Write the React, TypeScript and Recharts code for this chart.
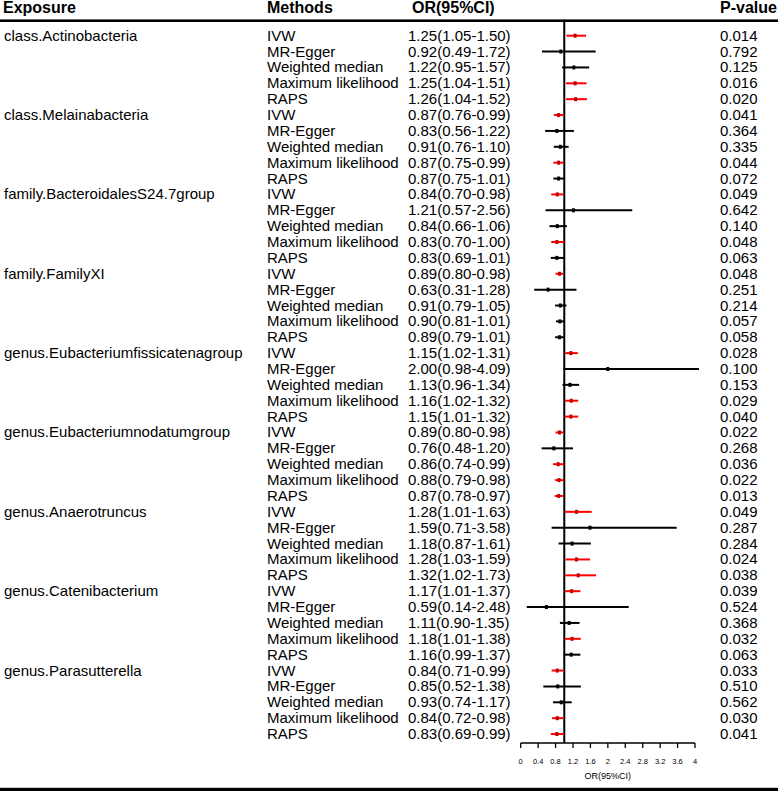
import React from "react";
import {
  ErrorBar,
  ReferenceLine,
  Scatter,
  ScatterChart,
  XAxis,
  YAxis,
} from "recharts";

const FONT = '"Liberation Sans", Arial, sans-serif';

const exposures = [
  "class.Actinobacteria",
  "class.Melainabacteria",
  "family.BacteroidalesS24.7group",
  "family.FamilyXI",
  "genus.Eubacteriumfissicatenagroup",
  "genus.Eubacteriumnodatumgroup",
  "genus.Anaerotruncus",
  "genus.Catenibacterium",
  "genus.Parasutterella",
];

const methods = [
  "IVW",
  "MR-Egger",
  "Weighted median",
  "Maximum likelihood",
  "RAPS",
];

const or = [
  1.25, 0.92, 1.22, 1.25, 1.26,
  0.87, 0.83, 0.91, 0.87, 0.87,
  0.84, 1.21, 0.84, 0.83, 0.83,
  0.89, 0.63, 0.91, 0.9, 0.89,
  1.15, 2.0, 1.13, 1.16, 1.15,
  0.89, 0.76, 0.86, 0.88, 0.87,
  1.28, 1.59, 1.18, 1.28, 1.32,
  1.17, 0.59, 1.11, 1.18, 1.16,
  0.84, 0.85, 0.93, 0.84, 0.83,
];

const lower = [
  1.05, 0.49, 0.95, 1.04, 1.04,
  0.76, 0.56, 0.76, 0.75, 0.75,
  0.7, 0.57, 0.66, 0.7, 0.69,
  0.8, 0.31, 0.79, 0.81, 0.79,
  1.02, 0.98, 0.96, 1.02, 1.01,
  0.8, 0.48, 0.74, 0.79, 0.78,
  1.01, 0.71, 0.87, 1.03, 1.02,
  1.01, 0.14, 0.9, 1.01, 0.99,
  0.71, 0.52, 0.74, 0.72, 0.69,
];

const upper = [
  1.5, 1.72, 1.57, 1.51, 1.52,
  0.99, 1.22, 1.1, 0.99, 1.01,
  0.98, 2.56, 1.06, 1.0, 1.01,
  0.98, 1.28, 1.05, 1.01, 1.01,
  1.31, 4.09, 1.34, 1.32, 1.32,
  0.98, 1.2, 0.99, 0.98, 0.97,
  1.63, 3.58, 1.61, 1.59, 1.73,
  1.37, 2.48, 1.35, 1.38, 1.37,
  0.99, 1.38, 1.17, 0.98, 0.99,
];

const pValues = [
  0.014, 0.792, 0.125, 0.016, 0.02,
  0.041, 0.364, 0.335, 0.044, 0.072,
  0.049, 0.642, 0.14, 0.048, 0.063,
  0.048, 0.251, 0.214, 0.057, 0.058,
  0.028, 0.1, 0.153, 0.029, 0.04,
  0.022, 0.268, 0.036, 0.022, 0.013,
  0.049, 0.287, 0.284, 0.024, 0.038,
  0.039, 0.524, 0.368, 0.032, 0.063,
  0.033, 0.51, 0.562, 0.03, 0.041,
];

const xTicks = [0, 0.4, 0.8, 1.2, 1.6, 2, 2.4, 2.8, 3.2, 3.6, 4];

const rows = or.map((v, i) => ({
  y: i,
  x: v,
  err: [v - lower[i], upper[i] - v],
  sig: pValues[i] < 0.05,
}));
const rowIds = rows.map((r) => r.y);

const RowTick = (props: any) => {
  const i = props.payload.value as number;
  const y = props.y + 5;
  const style = { fontFamily: FONT, fontSize: 15, fill: "#000" };
  return (
    <g>
      {i % 5 === 0 && (
        <text x={4} y={y} {...style}>
          {exposures[i / 5]}
        </text>
      )}
      <text x={267} y={y} {...style}>
        {methods[i % 5]}
      </text>
      <text x={408} y={y} {...style}>
        {`${or[i].toFixed(2)}(${lower[i].toFixed(2)}-${upper[i].toFixed(2)})`}
      </text>
      <text x={720} y={y} {...style}>
        {pValues[i].toFixed(3)}
      </text>
    </g>
  );
};

const box = (color: string) => (p: any) => (
  <rect x={p.cx - 1.5} y={p.cy - 2} width={3} height={4} fill={color} />
);

export default function App() {
  return (
    <div
      style={{
        position: "absolute",
        left: 0,
        top: 0,
        width: 778,
        height: 791,
        background: "#fff",
        fontFamily: FONT,
      }}
    >
      <ScatterChart
        width={778}
        height={791}
        margin={{ top: 20.7, right: 83, bottom: 0, left: 0 }}
      >
        <XAxis
          type="number"
          dataKey="x"
          domain={[0, 4]}
          ticks={xTicks}
          allowDataOverflow
          height={48}
          interval={0}
          tickSize={5}
          tickMargin={11}
          stroke="#000"
          strokeWidth={1.3}
          tick={{ fontSize: 7.5, fill: "#000", fontFamily: FONT }}
          label={{
            value: "OR(95%CI)",
            position: "insideBottom",
            offset: 12.5,
            fontSize: 9,
            fill: "#000",
            fontFamily: FONT,
          }}
        />
        <YAxis
          type="number"
          dataKey="y"
          domain={[-0.945, 44.565]}
          reversed
          allowDataOverflow
          ticks={rowIds}
          interval={0}
          width={520.7}
          axisLine={false}
          tickLine={false}
          tick={<RowTick />}
        />
        <ReferenceLine x={1} stroke="#000" strokeWidth={2} />
        <Scatter
          data={rows.filter((r) => !r.sig)}
          shape={box("#000")}
          isAnimationActive={false}
        >
          <ErrorBar
            dataKey="err"
            direction="x"
            width={0}
            stroke="#000"
            strokeWidth={2}
            isAnimationActive={false}
          />
        </Scatter>
        <Scatter
          data={rows.filter((r) => r.sig)}
          shape={box("#c00000")}
          isAnimationActive={false}
        >
          <ErrorBar
            dataKey="err"
            direction="x"
            width={0}
            stroke="#ff0000"
            strokeWidth={2}
            isAnimationActive={false}
          />
        </Scatter>
      </ScatterChart>
      <svg
        width={778}
        height={791}
        style={{ position: "absolute", left: 0, top: 0, pointerEvents: "none" }}
      >
        <g fontFamily={FONT} fontWeight="bold" fontSize={16} fill="#000">
          <text x={3} y={13}>Exposure</text>
          <text x={267} y={13}>Methods</text>
          <text x={412} y={13}>OR(95%CI)</text>
          <text x={720} y={13}>P-value</text>
        </g>
        <rect x={0} y={19.4} width={778} height={2.6} fill="#000" />
        <rect x={0} y={787.8} width={778} height={3.2} fill="#000" />
      </svg>
    </div>
  );
}
